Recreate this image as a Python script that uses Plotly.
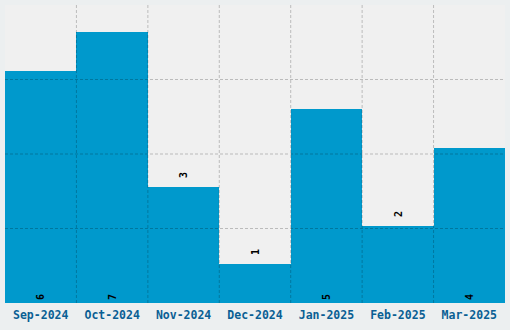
import plotly.graph_objects as go

months = ["Sep-2024", "Oct-2024", "Nov-2024", "Dec-2024", "Jan-2025", "Feb-2025", "Mar-2025"]
counts = [6, 7, 3, 1, 5, 2, 4]

ymax = max(counts) * 1.1
positions = ["inside" if v >= 4 else "outside" for v in counts]
labels = [str(v) if p == "inside" else "\u00a0" + str(v) for v, p in zip(counts, positions)]

fig = go.Figure(go.Bar(
    x=months, y=counts,
    text=labels,
    textposition=positions,
    insidetextanchor="start",
    textangle=-90,
    textfont=dict(family="DejaVu Sans Mono", size=10, color="#000000", weight="bold"),
    marker=dict(color="#0099cc", line=dict(width=0)),
    cliponaxis=False,
    hoverinfo="skip",
))

grid = dict(color="rgba(0,0,0,0.22)", width=1, dash="3px,2px")
shapes = []
for i in range(1, len(months)):
    shapes.append(dict(type="line", xref="x", yref="paper", x0=i - 0.5, x1=i - 0.5, y0=0, y1=1,
                       line=grid, layer="above"))
for k in range(1, 4):
    yv = ymax * k / 4
    shapes.append(dict(type="line", xref="paper", yref="y", x0=0, x1=1, y0=yv, y1=yv,
                       line=grid, layer="above"))

fig.update_layout(
    width=510, height=330,
    margin=dict(l=5, r=5, t=5, b=27),
    paper_bgcolor="#eceff0",
    plot_bgcolor="#f0f0f0",
    bargap=0,
    showlegend=False,
    shapes=shapes,
    xaxis=dict(showgrid=False, zeroline=False, showline=False, ticks="",
               ticklabelstandoff=3,
               tickfont=dict(family="DejaVu Sans Mono", size=11.5, color="#0a5f94", weight="bold"),
               range=[-0.5, len(months) - 0.5]),
    yaxis=dict(range=[0, ymax], showgrid=False, zeroline=False, showticklabels=False, showline=False),
)

fig.write_html("out.html")
